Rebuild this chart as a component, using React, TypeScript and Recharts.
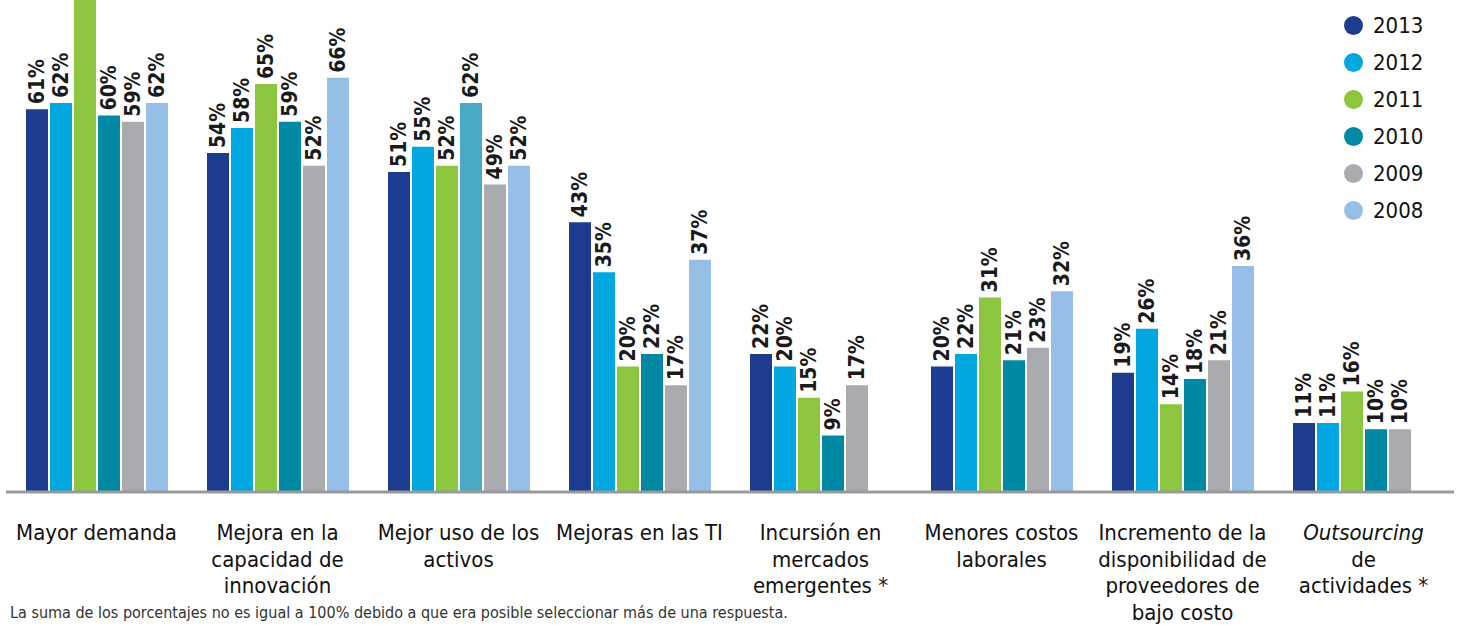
import { BarChart, Bar, XAxis, YAxis, LabelList, Cell, ReferenceLine } from 'recharts'

const categories = [
  'Mayor demanda',
  'Mejora en la\ncapacidad de\ninnovación',
  'Mejor uso de los\nactivos',
  'Mejoras en las TI',
  'Incursión en\nmercados\nemergentes *',
  'Menores costos\nlaborales',
  'Incremento de la\ndisponibilidad de\nproveedores de\nbajo costo',
  '_Outsourcing_\nde\nactividades *',
]

const years = ['2013', '2012', '2011', '2010', '2009', '2008']

const v2013 = [61, 54, 51, 43, 22, 20, 19, 11]
const v2012 = [62, 58, 55, 35, 20, 22, 26, 11]
const v2011 = [82, 65, 52, 20, 15, 31, 14, 16]
const v2010 = [60, 59, 62, 22, 9, 21, 18, 10]
const v2009 = [59, 52, 49, 17, 17, 23, 21, 10]
const v2008 = [62, 66, 52, 37, null, 32, 36, null]

const SERIES = [v2013, v2012, v2011, v2010, v2009, v2008]

const COLORS: Record<string, string> = {
  '2013': '#1e3c8f',
  '2012': '#00a7e0',
  '2011': '#8cc63e',
  '2010': '#0088a4',
  '2009': '#a9abae',
  '2008': '#96bfe8',
}
// one bar in "Mejor uso de los activos" is printed in a lighter teal
const ODD_TEAL = '#4aaac4'

const FONT = '"Liberation Sans Narrow", "DejaVu Sans Condensed", "Roboto Condensed", sans-serif'

const data = categories.map((name, i) => {
  const row: Record<string, string | number | null> = { name }
  years.forEach((y, k) => { row[y] = SERIES[k][i] })
  return row
})

// ── Rotated value labels ───────────────────────────────────────────────────────
function ValueLabel(props: any) {
  const { x, y, width, value } = props
  if (value == null || y < 0) return null
  const cx = x + width / 2
  const ty = y - 5
  return (
    <text
      x={cx} y={ty}
      transform={`rotate(-90, ${cx}, ${ty})`}
      textAnchor="start"
      dominantBaseline="central"
      fontFamily={FONT}
      fontWeight={700}
      fontSize={21}
      fill="#1a1a1a"
    >
      {value}%
    </text>
  )
}

// ── Multi-line category tick ───────────────────────────────────────────────────
function CategoryTick({ x, y, payload }: any) {
  const lines = String(payload.value).split('\n')
  return (
    <g>
      {lines.map((line, i) => {
        const italic = line.startsWith('_')
        const txt = line.replace(/_/g, '')
        return (
          <text
            key={i}
            x={x} y={y + 40 + i * 26.5}
            textAnchor="middle"
            fontFamily={FONT}
            fontSize={22}
            fontStyle={italic ? 'italic' : 'normal'}
            fill="#111"
          >
            {txt}
          </text>
        )
      })}
    </g>
  )
}

// ── Legend ─────────────────────────────────────────────────────────────────────
function YearLegend() {
  return (
    <div style={{ position: 'absolute', left: 1344, top: 7 }}>
      {years.map(y => (
        <div key={y} style={{ display: 'flex', alignItems: 'center', height: 37 }}>
          <span style={{
            width: 19, height: 19, borderRadius: '50%', background: COLORS[y],
            display: 'inline-block', marginRight: 10,
          }} />
          <span style={{ fontFamily: FONT, fontSize: 22, color: '#111', lineHeight: '26px' }}>{y}</span>
        </div>
      ))}
    </div>
  )
}

export default function App() {
  return (
    <div style={{ position: 'absolute', left: 0, top: 0, width: 1458, height: 625, overflow: 'hidden', background: '#fff' }}>
      <BarChart
        width={1458}
        height={625}
        data={data}
        margin={{ top: 0, right: 4, left: 6, bottom: 13 }}
        barSize={22}
        barGap={2}
      >
        <XAxis
          dataKey="name"
          axisLine={false}
          tickLine={false}
          interval={0}
          height={120}
          tick={<CategoryTick />}
        />
        <YAxis hide domain={[0, 78.4]} allowDataOverflow />
        {years.map(y => (
          <Bar key={y} dataKey={y} fill={COLORS[y]} isAnimationActive={false}>
            {y === '2010' && categories.map((c, i) => (
              <Cell key={c} fill={i === 2 ? ODD_TEAL : COLORS[y]} />
            ))}
            <LabelList dataKey={y} content={<ValueLabel />} />
          </Bar>
        ))}
        <ReferenceLine y={0} stroke="#9a9a9a" strokeWidth={3} />
      </BarChart>
      <YearLegend />
      <div style={{
        position: 'absolute', left: 10, top: 603, fontFamily: FONT, fontSize: 16,
        lineHeight: '19px', color: '#333', whiteSpace: 'nowrap',
      }}>
        La suma de los porcentajes no es igual a 100% debido a que era posible seleccionar más de una respuesta.
      </div>
    </div>
  )
}
